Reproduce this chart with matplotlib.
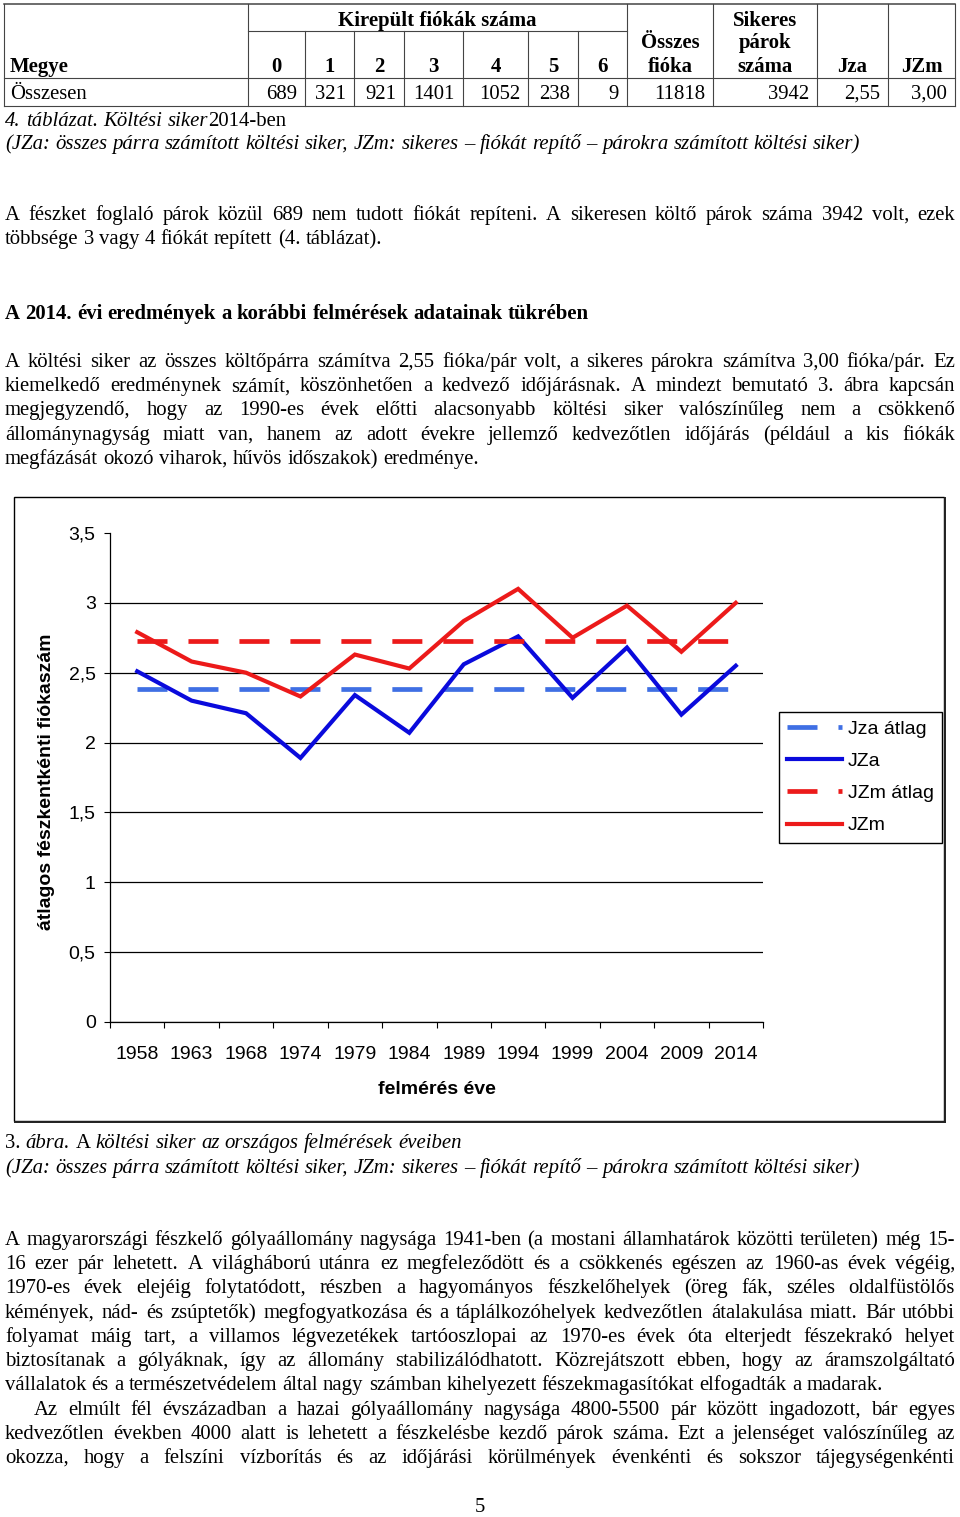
import matplotlib
matplotlib.use('Agg')
import matplotlib.pyplot as plt
from matplotlib.patches import Rectangle
import numpy as np

plt.rcParams['lines.scale_dashes'] = False

# ---------------- data ----------------
table_cols = ['0', '1', '2', '3', '4', '5', '6']
table_vals = ['689', '321', '921', '1401', '1052', '238', '9', '11818', '3942', '2,55', '3,00']

years = ['1958', '1963', '1968', '1974', '1979', '1984', '1989', '1994', '1999', '2004', '2009', '2014']
jza = [2.51, 2.30, 2.21, 1.89, 2.34, 2.07, 2.56, 2.76, 2.32, 2.68, 2.20, 2.55]
jzm = [2.79, 2.58, 2.50, 2.33, 2.63, 2.53, 2.87, 3.10, 2.75, 2.98, 2.65, 3.00]
jza_avg = [2.38, 2.38, 2.38, 2.38, 2.38, 2.38, 2.38, 2.38, 2.38, 2.38, 2.38, 2.38]
jzm_avg = [2.73, 2.73, 2.73, 2.73, 2.73, 2.73, 2.73, 2.73, 2.73, 2.73, 2.73, 2.73]
series_labels = ['Jza átlag', 'JZa', 'JZm átlag', 'JZm']
yticks = [0, 0.5, 1, 1.5, 2, 2.5, 3, 3.5]
ytick_labels = ['0', '0,5', '1', '1,5', '2', '2,5', '3', '3,5']

# ---------------- page ----------------
W, H = 960, 1517
fig = plt.figure(figsize=(W / 100, H / 100), dpi=100)
fig.patch.set_facecolor('white')
page = fig.add_axes([0, 0, 1, 1])
page.set_xlim(0, W)
page.set_ylim(H, 0)
page.axis('off')
renderer = fig.canvas.get_renderer()

SERIF = 'Liberation Serif'
SANS = 'Liberation Sans'

def measure(s, size, style='normal', weight='normal', family=SERIF):
    t = page.text(0, 0, s, fontsize=size, fontstyle=style, fontweight=weight, family=family)
    w = t.get_window_extent(renderer).width
    t.remove()
    return w

BODY = 10 * 378 / measure('többsége 3 vagy 4 fiókát repített (4. táblázat).', 10)

def parse(runs):
    words, cur = [], []
    for text, style in runs:
        parts = text.split(' ')
        for i, p in enumerate(parts):
            if i > 0 and cur:
                words.append(cur)
                cur = []
            if p:
                cur.append((p, style))
    if cur:
        words.append(cur)
    return words

DY = 2  # vertical offset for running text

def put_line(runs, y, x0=5, x1=955, justify=False, size=None, weight='normal', family=SERIF):
    size = size or BODY
    y = y + DY
    if isinstance(runs, str):
        runs = [(runs, 'normal')]
    words = parse(runs)
    objs, widths = [], []
    for w in words:
        wo, ws = [], []
        for text, style in w:
            t = page.text(0, y, text, fontsize=size, family=family, fontstyle=style,
                          fontweight=weight, va='baseline', ha='left', color='black')
            wo.append(t)
            ws.append(t.get_window_extent(renderer).width)
        objs.append((wo, ws))
        widths.append(sum(ws))
    space = measure('a a', size, weight=weight, family=family) - measure('aa', size, weight=weight, family=family)
    if justify and len(words) > 1:
        gap = (x1 - x0 - sum(widths)) / (len(words) - 1)
    else:
        gap = space
    x = x0
    for (wo, ws), ww in zip(objs, widths):
        xx = x
        for t, w in zip(wo, ws):
            t.set_x(xx)
            xx += w
        x += ww + gap

# ---------------- table ----------------
LC = '#444444'
vx = [4, 248, 305, 354, 404, 463, 528, 578, 627, 713, 817, 888, 955]
top, mid, hdr, bot = 4, 31, 78, 106
page.plot([4, 955], [top, top], color=LC, lw=1.1)
page.plot([248, 627], [mid, mid], color=LC, lw=0.8)
page.plot([4, 955], [hdr, hdr], color=LC, lw=0.8)
page.plot([4, 955], [bot, bot], color=LC, lw=0.8)
for x in vx:
    y0 = mid if x in vx[2:8] else top
    page.plot([x, x], [y0, bot], color=LC, lw=0.8)

def cell(x, y, s, ha='center', bold=True):
    page.text(x, y, s, fontsize=BODY, family=SERIF, fontweight='bold' if bold else 'normal',
              ha=ha, va='baseline')

cell((248 + 627) / 2, 26, 'Kirepült fiókák száma')
cell(10, 72, 'Megye', ha='left')
for i, c in enumerate(table_cols):
    cell((vx[i + 1] + vx[i + 2]) / 2, 72, c)
cell((627 + 713) / 2, 48, 'Összes')
cell((627 + 713) / 2, 72, 'fióka')
cell((713 + 817) / 2, 26, 'Sikeres')
cell((713 + 817) / 2, 48, 'párok')
cell((713 + 817) / 2, 72, 'száma')
cell((817 + 888) / 2, 72, 'Jza')
cell((888 + 955) / 2, 72, 'JZm')
cell(10, 99, 'Összesen', ha='left', bold=False)
for i, v in enumerate(table_vals):
    cell(vx[i + 2] - 8, 99, v, ha='right', bold=False)

# ---------------- text ----------------
cap2 = '(JZa: összes párra számított költési siker, JZm: sikeres – fiókát repítő – párokra számított költési siker)'
put_line([('4. táblázat. Költési siker', 'italic'), ('2014-ben', 'normal')], 124)
put_line([(cap2, 'italic')], 147)

put_line('A fészket foglaló párok közül 689 nem tudott fiókát repíteni. A sikeresen költő párok száma 3942 volt, ezek', 218, justify=True)
put_line('többsége 3 vagy 4 fiókát repített (4. táblázat).', 242)
put_line('A 2014. évi eredmények a korábbi felmérések adatainak tükrében', 317, weight='bold')
p2 = ['A költési siker az összes költőpárra számítva 2,55 fióka/pár volt, a sikeres párokra számítva 3,00 fióka/pár. Ez',
      'kiemelkedő eredménynek számít, köszönhetően a kedvező időjárásnak. A mindezt bemutató 3. ábra kapcsán',
      'megjegyzendő, hogy az 1990-es évek előtti alacsonyabb költési siker valószínűleg nem a csökkenő',
      'állománynagyság miatt van, hanem az adott évekre jellemző kedvezőtlen időjárás (például a kis fiókák']
for i, s in enumerate(p2):
    put_line(s, 365 + i * 24.2, justify=True)
put_line('megfázását okozó viharok, hűvös időszakok) eredménye.', 462)

put_line([('3.', 'normal'), (' ', 'normal'), ('ábra.', 'italic'), (' A', 'normal'),
          (' költési siker az országos felmérések éveiben', 'italic')], 1146)
put_line([(cap2, 'italic')], 1171)

p3 = ['A magyarországi fészkelő gólyaállomány nagysága 1941-ben (a mostani államhatárok közötti területen) még 15-',
      '16 ezer pár lehetett. A világháború utánra ez megfeleződött és a csökkenés egészen az 1960-as évek végéig,',
      '1970-es évek elejéig folytatódott, részben a hagyományos fészkelőhelyek (öreg fák, széles oldalfüstölős',
      'kémények, nád- és zsúptetők) megfogyatkozása és a táplálkozóhelyek kedvezőtlen átalakulása miatt. Bár utóbbi',
      'folyamat máig tart, a villamos légvezetékek tartóoszlopai az 1970-es évek óta elterjedt fészekrakó helyet',
      'biztosítanak a gólyáknak, így az állomány stabilizálódhatott. Közrejátszott ebben, hogy az áramszolgáltató']
for i, s in enumerate(p3):
    put_line(s, 1243 + i * 24.2, justify=True)
put_line('vállalatok és a természetvédelem által nagy számban kihelyezett fészekmagasítókat elfogadták a madarak.', 1388)
put_line('Az elmúlt fél évszázadban a hazai gólyaállomány nagysága 4800-5500 pár között ingadozott, bár egyes', 1413, x0=34, justify=True)
put_line('kedvezőtlen években 4000 alatt is lehetett a fészkelésbe kezdő párok száma. Ezt a jelenséget valószínűleg az', 1437, justify=True)
put_line('okozza, hogy a felszíni vízborítás és az időjárási körülmények évenkénti és sokszor tájegységenkénti', 1461, justify=True)
page.text(480, 1512, '5', fontsize=BODY, family=SERIF, ha='center', va='baseline')

# ---------------- chart frame ----------------
page.add_patch(Rectangle((14, 497), 930, 624, fill=False, lw=1.0, ec='black'))
page.plot([15, 945], [1122, 1122], color='#222222', lw=1.4)
page.plot([945, 945], [498, 1122], color='#222222', lw=1.4)

# ---------------- chart ----------------
CH = 14
ax = fig.add_axes([110 / W, 1 - 1022 / H, (763 - 110) / W, (1022 - 533) / H])
ax.set_facecolor('white')
x = np.arange(len(years))
BLUE_L = '#3f6fe4'
BLUE = '#0a0adc'
RED = '#ec1a1a'
dash = (21.6, 15.1)
l1, = ax.plot(x, jza_avg, color=BLUE_L, lw=3.4, dashes=dash, dash_capstyle='butt')
l2, = ax.plot(x, jza, color=BLUE, lw=3.0, solid_joinstyle='miter')
l3, = ax.plot(x, jzm_avg, color=RED, lw=3.4, dashes=dash, dash_capstyle='butt')
l4, = ax.plot(x, jzm, color=RED, lw=3.0, solid_joinstyle='miter')

ax.set_xlim(-0.5, len(years) - 0.5)
ax.set_ylim(0, 3.5)
ax.set_yticks(yticks)
ax.set_yticklabels(ytick_labels, family=SANS, fontsize=CH)
ax.set_xticks(x)
ax.set_xticklabels(years, family=SANS, fontsize=CH)
ax.set_xticks(np.arange(-0.5, len(years), 1), minor=True)
ax.tick_params(axis='x', which='major', length=0, pad=17)
ax.tick_params(axis='x', which='minor', length=4.5, width=0.8, direction='out', color='black')
ax.tick_params(axis='y', length=4.5, width=0.8, pad=5.8, color='black')
for s in ['top', 'right']:
    ax.spines[s].set_visible(False)
for s in ['left', 'bottom']:
    ax.spines[s].set_color('black')
    ax.spines[s].set_linewidth(0.9)
ax.yaxis.grid(True, color='black', lw=0.9)
ax.set_axisbelow(True)
ax.get_ygridlines()[-1].set_visible(False)

ax.set_xlabel('felmérés éve', family=SANS, fontsize=CH, fontweight='bold')
ax.xaxis.set_label_coords(0.5, (1022 - 1089) / 489)
ax.xaxis.label.set_va('center')
ax.set_ylabel('átlagos fészkentkénti fiókaszám', family=SANS, fontsize=CH, fontweight='bold')
ax.yaxis.set_label_coords((47 - 110) / 653, (1022 - 782) / 489)
ax.yaxis.label.set_va('center')

leg = ax.legend([l1, l2, l3, l4], series_labels, loc='upper left',
                bbox_to_anchor=(779 / W, 1 - 712 / H), bbox_transform=fig.transFigure,
                borderaxespad=0, prop={'family': SANS, 'size': CH},
                handlelength=2.83, handletextpad=0.3, labelspacing=0.75, borderpad=0.42,
                fancybox=False, framealpha=1, edgecolor='black')
leg.get_frame().set_linewidth(1.0)

fig.savefig('out.png', dpi=100, facecolor='white')
